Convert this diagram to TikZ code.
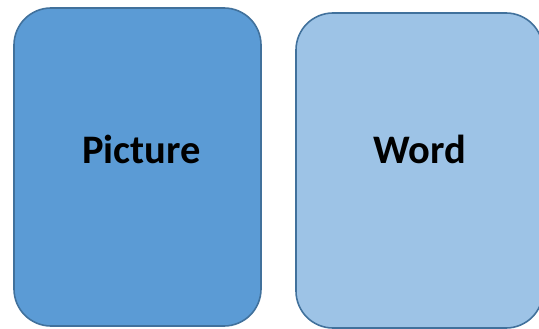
\documentclass[tikz,border=0pt]{standalone}
\usepackage{fontspec}
\setmainfont{Carlito}
\definecolor{cardDark}{RGB}{91,155,213}
\definecolor{cardLight}{RGB}{157,195,230}
\definecolor{cardEdge}{RGB}{65,113,156}
\begin{document}
\begin{tikzpicture}[x=1pt,y=1pt,yscale=-1,xscale=1,
  card/.style={draw=cardEdge,line width=1.6pt,rounded corners=37pt,inner sep=0pt},
  cardtext/.style={anchor=base,inner sep=0pt,font=\fontsize{40.5}{40}\selectfont\bfseries}]
\useasboundingbox (0,0) rectangle (539,329);

%Shape: Rounded Rect [id:picture]
\node [card,fill=cardDark,minimum width=247pt,minimum height=318pt] (picture) at (137.5,167) {};
%Shape: Rounded Rect [id:word]
\node [card,fill=cardLight,minimum width=247pt,minimum height=315pt] (word) at (419.5,170.5) {};

% Text Node
\node [cardtext] (pictureText) at (141.5,163.3) {Picture};
% Text Node
\node [cardtext] (wordText) at (420,163.3) {Word};

\end{tikzpicture}
\end{document}
